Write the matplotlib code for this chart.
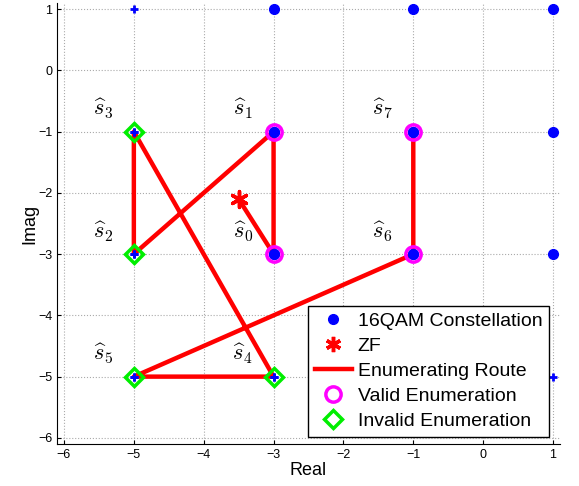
import matplotlib
matplotlib.use("Agg")
import matplotlib.pyplot as plt
import numpy as np

plt.rcParams["font.family"] = ["Liberation Sans", "DejaVu Sans"]
plt.rcParams["mathtext.fontset"] = "cm"

# constellation points (drawn as dots / as small plus signs)
qam_dot_x = [-3, -1, 1, -3, -1, 1, -3, -1, 1]
qam_dot_y = [1, 1, 1, -1, -1, -1, -3, -3, -3]
qam_plus_x = [-5, -5, -5, -5, -3, -1, 1]
qam_plus_y = [1, -1, -3, -5, -5, -5, -5]

# zero-forcing estimate
zf_x, zf_y = -3.5, -2.1

# enumeration order s0..s7
route_x = [-3, -3, -5, -5, -3, -5, -1, -1]
route_y = [-3, -1, -3, -1, -5, -5, -3, -1]
valid_idx = [0, 1, 6, 7]
invalid_idx = [2, 3, 4, 5]

# label offsets for the s-hat texts
label_dx, label_dy = -0.44, 0.37

fig = plt.figure(figsize=(5.79, 4.86), dpi=100)
ax = fig.add_axes([57 / 579, 42 / 486, 503 / 579, 441 / 486])

ax.plot(qam_dot_x, qam_dot_y, "o", color="blue", ms=7, mec="blue",
        label="16QAM Constellation", zorder=3)
ax.plot(qam_plus_x, qam_plus_y, "+", color="blue", ms=6, mew=2, zorder=3)

ax.plot([zf_x] + route_x, [zf_y] + route_y, "-", color="red", lw=3.2,
        label="Enumerating Route", zorder=2)
ax.scatter([zf_x], [zf_y], marker=(6, 2, 0), s=130, color="red", lw=2.5,
           zorder=4)
ax.plot([], [], marker=(6, 2, 0), color="red", ls="none", ms=11,
        mew=2.5, label="ZF")

rx = np.array(route_x)
ry = np.array(route_y)
ax.plot(rx[valid_idx], ry[valid_idx], "o", mfc="none", mec="magenta", ms=11,
        mew=2.5, label="Valid Enumeration", zorder=5)
ax.plot(rx[invalid_idx], ry[invalid_idx], "D", mfc="none", mec="#00ee00",
        ms=9, mew=2.5, label="Invalid Enumeration", zorder=5)
# re-draw the dots/pluses on top so they show inside the rings
ax.plot(rx[valid_idx], ry[valid_idx], "o", color="blue", ms=7, zorder=6)
ax.plot(rx[invalid_idx], ry[invalid_idx], "+", color="blue", ms=6, mew=2,
        zorder=6)

for i, (x, y) in enumerate(zip(route_x, route_y)):
    ax.text(x + label_dx, y + label_dy, r"$\widehat{s}_{%d}$" % i,
            fontsize=16, ha="center", va="center")

ax.set_xlim(-6.1, 1.1)
ax.set_ylim(-6.1, 1.1)
ax.set_xticks(range(-6, 2))
ax.set_yticks(range(-6, 2))
ax.tick_params(direction="in", labelsize=9, length=3)
ax.spines["top"].set_visible(False)
ax.spines["right"].set_visible(False)
ax.grid(True, ls=":", color="#aaaaaa", lw=0.8)
ax.set_xlabel("Real", fontsize=13, labelpad=1)
ax.set_ylabel("Imag", fontsize=13, labelpad=0)

handles, labels = ax.get_legend_handles_labels()
order = ["16QAM Constellation", "ZF", "Enumerating Route",
         "Valid Enumeration", "Invalid Enumeration"]
hmap = dict(zip(labels, handles))
leg = ax.legend([hmap[k] for k in order], order, loc="lower right",
                bbox_to_anchor=(0.978, 0.016), borderaxespad=0,
                fontsize=14, fancybox=False, framealpha=1,
                edgecolor="black", handlelength=1.9, labelspacing=0.38,
                borderpad=0.35, handletextpad=0.3)
leg.get_frame().set_linewidth(1.0)

fig.savefig("out.png", dpi=100)
